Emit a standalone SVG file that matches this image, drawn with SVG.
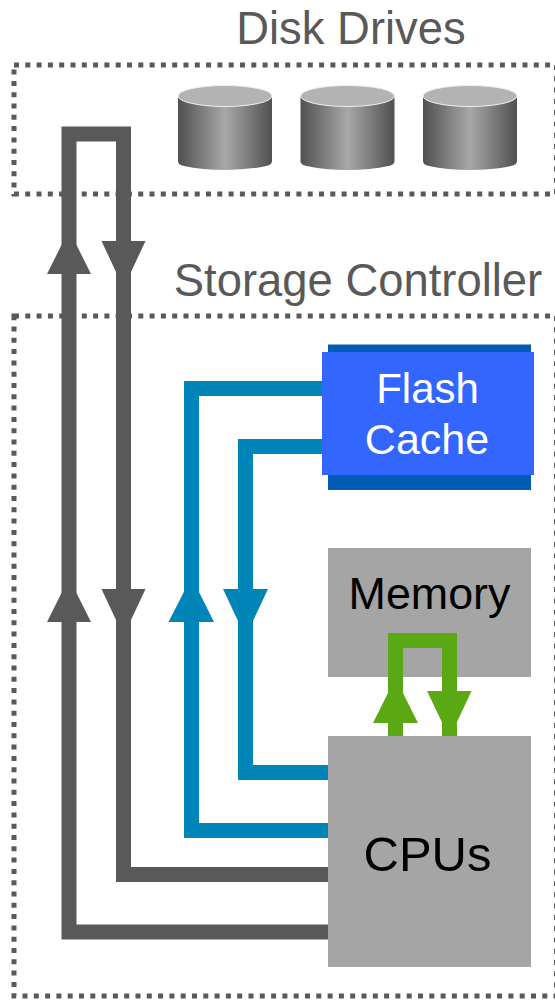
<svg xmlns="http://www.w3.org/2000/svg" width="555" height="1000" viewBox="0 0 555 1000">
<style>
text{font-family:"Liberation Sans",Arial,sans-serif;text-anchor:middle}
.zone{fill:none;stroke:#595959;stroke-width:5;stroke-dasharray:5 6.3}
.title{font-size:45.400px;fill:#595959}
.lab{font-size:44.800px;fill:#000}
.wire{fill:none;stroke-width:15;stroke-linejoin:miter}
.grey{stroke:#595959}.blue{stroke:#0085b8}.green{stroke:#5ba815}
.box{fill:#a5a5a5}
.top{fill:#b3b3b3;stroke:#f0f0f0;stroke-width:1}
</style>
<defs>
<linearGradient id="drum" x1="0" x2="1" y1="0" y2="0">
<stop offset="0" stop-color="#505050"/><stop offset=".5" stop-color="#a8a8a8"/><stop offset="1" stop-color="#505050"/>
</linearGradient>
<g id="disk">
<path d="M0 11V76Q0 80 6 81Q24 85 47 85Q70 85 88 81Q94 80 94 76V11Z" fill="url(#drum)"/>
<ellipse class="top" cx="47" cy="11" rx="47" ry="10.5"/>
</g>
</defs>
<g id="disk-drives">
<text class="title" x="351" y="43.500">Disk Drives</text>
<rect class="zone" x="14" y="65" width="542.500" height="129"/>
<use href="#disk" x="178" y="85"/>
<use href="#disk" x="300.5" y="85"/>
<use href="#disk" x="423" y="85"/>
</g>
<g id="storage-controller">
<text class="title" x="358" y="296">Storage Controller</text>
<rect class="zone" x="14" y="316" width="542.500" height="680"/>
</g>
<g id="connectors">
<path class="wire grey" d="M328 932H69V134H123.5V874.5H328"/>
<path class="wire blue" d="M328 830.5H191.500V388.500H328"/>
<path class="wire blue" d="M328 772.500H245.500V446.500H328"/>
<g fill="#595959">
<path d="M69 230L91 274H47Z"/><path d="M69 578L91 622H47Z"/>
<path d="M101.500 241H145.500L123.500 288Z"/><path d="M101.500 589H145.500L123.500 636Z"/>
</g>
<g fill="#0085b8">
<path d="M191.500 577L214 622H168.500Z"/><path d="M223 589H268L245.500 637Z"/>
</g>
</g>
<g id="flash-cache">
<rect x="328" y="344.500" width="203" height="145.500" fill="#005cb2"/>
<rect x="322" y="352" width="212" height="123" fill="#3366ff"/>
<text class="lab" x="427.500" y="403" style="font-size:42px;fill:#fff">Flash</text>
<text class="lab" x="427" y="454" style="font-size:43px;fill:#fff">Cache</text>
</g>
<g id="memory">
<rect class="box" x="328" y="548" width="203" height="129"/>
<text class="lab" x="429.500" y="609">Memory</text>
</g>
<g id="memory-link">
<path class="wire green" d="M395.500 736V640.500H449.500V736"/>
<path d="M395.500 678L418 723H373Z" fill="#5ba815"/>
<path d="M427 691H471.500L449.500 738Z" fill="#5ba815"/>
</g>
<g id="cpus">
<rect class="box" x="328" y="736" width="203" height="231"/>
<text class="lab" x="427.500" y="871" style="font-size:49px">CPUs</text>
</g>
</svg>
